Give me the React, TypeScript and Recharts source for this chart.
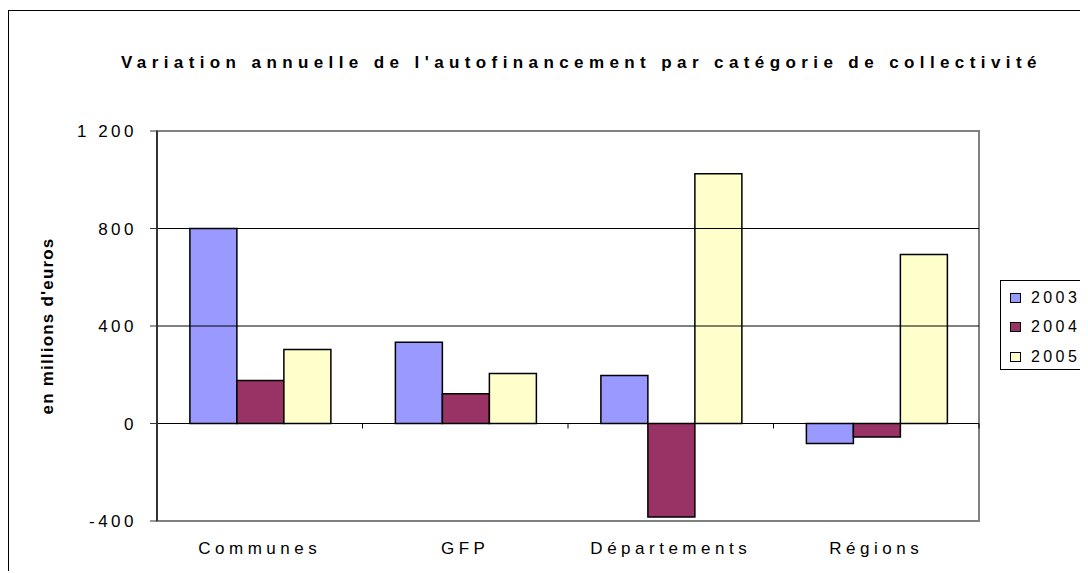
import React from "react";
import {
  Bar,
  BarChart,
  Legend,
  ReferenceArea,
  ReferenceLine,
  XAxis,
  YAxis,
} from "recharts";

const categories = ["Communes", "GFP", "Départements", "Régions"];
const values2003 = [800, 333, 197, -82];
const values2004 = [176, 122, -384, -55];
const values2005 = [304, 205, 1025, 693];
const seriesNames = ["2003", "2004", "2005"];
const seriesColors = ["#9999FF", "#993366", "#FFFFCC"];
const yTicks = [-400, 0, 400, 800, 1200];
const gridValues = [400, 800];

const data = categories.map((name, i) => ({
  name,
  "2003": values2003[i],
  "2004": values2004[i],
  "2005": values2005[i],
}));

const font = "'Liberation Sans', Arial, sans-serif";

const formatTick = (v: number) =>
  String(v).replace(/\B(?=(\d{3})+(?!\d))/g, " ");

// zero line with small tick marks between categories
function ZeroLine(props: any) {
  const { x1, x2, y1 } = props;
  const n = categories.length;
  const step = (x2 - x1) / n;
  const marks = [];
  for (let i = 0; i <= n; i++) {
    const x = x1 + i * step;
    marks.push(
      <line key={i} x1={x} x2={x} y1={y1} y2={y1 + 5} stroke="#000" strokeWidth={1} />
    );
  }
  return (
    <g>
      <line x1={x1} x2={x2} y1={y1} y2={y1} stroke="#000" strokeWidth={1} />
      {marks}
    </g>
  );
}

function LegendBox({ payload }: any) {
  return (
    <div
      style={{
        width: 87,
        height: 90,
        border: "1px solid #000",
        background: "#fff",
        fontFamily: font,
        fontSize: 16,
        letterSpacing: 3.4,
        boxSizing: "border-box",
        paddingTop: 2,
        whiteSpace: "nowrap",
      }}
    >
      {(payload || []).map((p: any) => (
        <div
          key={p.value}
          style={{ display: "flex", alignItems: "center", height: 29.5, lineHeight: "16px" }}
        >
          <span
            style={{
              display: "inline-block",
              flex: "0 0 auto",
              width: 9,
              height: 8,
              marginLeft: 9,
              marginRight: 10,
              background: p.color,
              border: "1px solid #000",
            }}
          />
          <span>{p.value}</span>
        </div>
      ))}
    </div>
  );
}

export default function App() {
  return (
    <div
      style={{
        position: "relative",
        top: 2,
        width: 1080,
        height: 563,
        borderLeft: "1px solid #000",
        borderTop: "1px solid #000",
        boxSizing: "border-box",
      }}
    >
      <style>{"html, body { overflow: hidden; }"}</style>
      <div
        style={{
          position: "absolute",
          left: 112,
          top: 42,
          fontFamily: font,
          fontWeight: "bold",
          fontSize: 17,
          letterSpacing: 5.4,
          whiteSpace: "nowrap",
          color: "#000",
          zIndex: 2,
        }}
      >
        Variation annuelle de l'autofinancement par catégorie de collectivité
      </div>
      <div style={{ position: "absolute", left: -1, top: -1 }}>
        <BarChart
          width={1080}
          height={563}
          data={data}
          margin={{ top: 121, right: 109, bottom: 22, left: 0 }}
          barCategoryGap="16%"
          barGap={0}
        >
          <ReferenceArea
            y1={-400}
            y2={1200}
            fill="none"
            stroke="#808080"
            strokeWidth={2}
            ifOverflow="visible"
          />
          {gridValues.map((v) => (
            <ReferenceLine key={v} y={v} stroke="#000" strokeWidth={1} />
          ))}
          <XAxis
            dataKey="name"
            height={30}
            axisLine={false}
            tickLine={false}
            tickMargin={15}
            tick={{
              fill: "#000",
              fontSize: 17,
              fontFamily: font,
              letterSpacing: 4.5,
            }}
          />
          <YAxis
            width={149}
            domain={[-400, 1200]}
            ticks={yTicks}
            interval={0}
            tickFormatter={formatTick}
            axisLine={{ stroke: "#333", strokeWidth: 2 }}
            tickLine={{ stroke: "#333" }}
            tickSize={7}
            tickMargin={13}
            tick={{
              fill: "#000",
              fontSize: 17,
              fontFamily: font,
              letterSpacing: 3.5,
            }}
            label={{
              value: "en millions d'euros",
              angle: -90,
              position: "insideLeft",
              offset: 39,
              style: {
                textAnchor: "middle",
                fontFamily: font,
                fontWeight: "bold",
                fontSize: 17,
                letterSpacing: 1.2,
                fill: "#000",
              },
            }}
          />
          {seriesNames.map((s, i) => (
            <Bar
              key={s}
              dataKey={s}
              fill={seriesColors[i]}
              stroke="#000"
              strokeWidth={1.5}
              isAnimationActive={false}
            />
          ))}
          <ReferenceLine y={0} shape={ZeroLine} />
          <Legend
            layout="vertical"
            align="center"
            verticalAlign="middle"
            wrapperStyle={{ position: "absolute", left: 992, top: 270, width: 87 }}
            content={LegendBox}
          />
        </BarChart>
      </div>
    </div>
  );
}
